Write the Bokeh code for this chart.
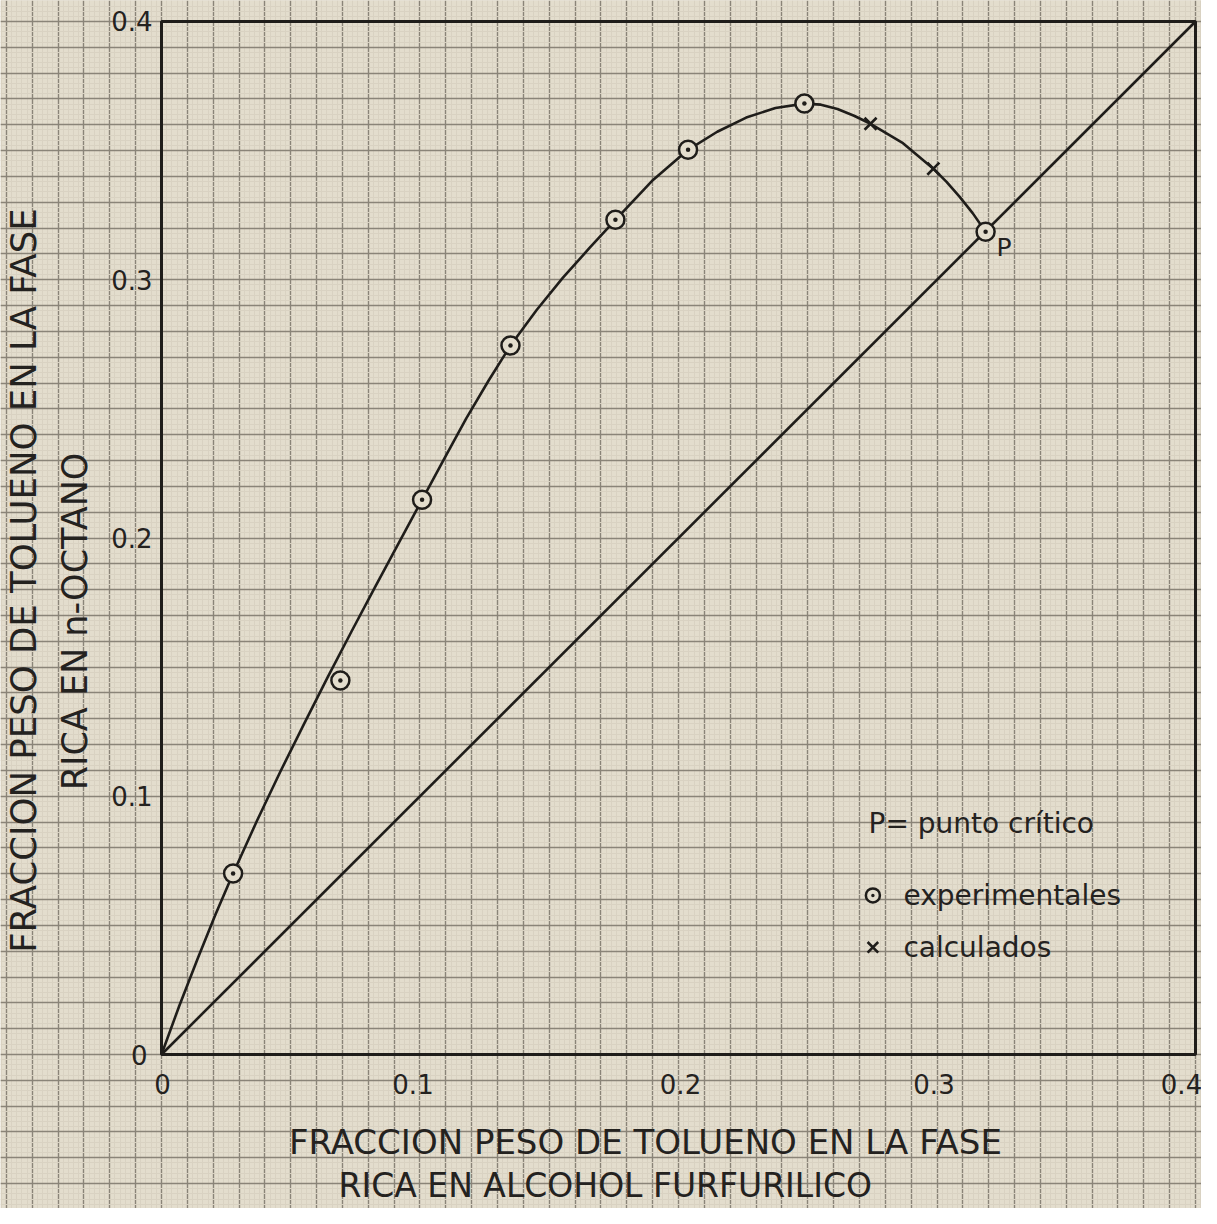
import numpy as np
from bokeh.plotting import figure
from bokeh.models import Range1d, FixedTicker, Grid, ColumnDataSource
from bokeh.core.properties import value
from bokeh.embed import file_html
from bokeh.resources import INLINE

# ---------------- data ----------------
exp_x = [0.0277, 0.0692, 0.1008, 0.1350, 0.1756, 0.2037, 0.2487, 0.3188]
exp_y = [0.0701, 0.1448, 0.2148, 0.2745, 0.3232, 0.3503, 0.3682, 0.3186]

calc_x = [0.2743, 0.2986]
calc_y = [0.3604, 0.3430]

# hand-drawn equilibrium curve
curve_x = [0.0, 0.0069, 0.0139, 0.0208, 0.0277, 0.0368, 0.0460, 0.0552, 0.0643,
           0.0734, 0.0825, 0.0917, 0.1008, 0.1094, 0.1179, 0.1265, 0.1350, 0.1452,
           0.1553, 0.1655, 0.1756, 0.1897, 0.2037, 0.2150, 0.2262, 0.2375, 0.2487,
           0.2551, 0.2615, 0.2679, 0.2743, 0.2865, 0.2986, 0.3037, 0.3087, 0.3138,
           0.3188]
curve_y = [0.0, 0.0189, 0.0369, 0.0540, 0.0701, 0.0902, 0.1096, 0.1281, 0.1461,
           0.1636, 0.1808, 0.1979, 0.2148, 0.2307, 0.2463, 0.2609, 0.2745, 0.2884,
           0.3008, 0.3122, 0.3232, 0.3382, 0.3503, 0.3573, 0.3628, 0.3665, 0.3682,
           0.3678, 0.3661, 0.3635, 0.3604, 0.3531, 0.3430, 0.3379, 0.3322, 0.3258,
           0.3186]

diag_x = [0.0, 0.4]
diag_y = [0.0, 0.4]

axis_min, axis_max = 0.0, 0.4
x_ticks = [0.0, 0.1, 0.2, 0.3, 0.4]
x_tick_labels = ["0", "0.1", "0.2", "0.3", "0.4"]
y_ticks = [0.0, 0.1, 0.2, 0.3, 0.4]
y_tick_labels = ["0", "0.1", "0.2", "0.3", "0.4"]

x_title_1 = "FRACCION PESO DE TOLUENO EN LA FASE"
x_title_2 = "RICA EN ALCOHOL  FURFURILICO"
y_title_1 = "FRACCION PESO DE TOLUENO EN LA FASE"
y_title_2 = "RICA EN n-OCTANO"

legend_lines = ["P= punto crítico", "experimentales", "calculados"]
critical_label = "P"

# ---------------- styling ----------------
PAPER = "#e3ddcd"
INK = "#1f1d1a"
TEXT_INK = "#24221f"
GRID_MAJOR = "#8a8478"
GRID_MINOR = "#d9d2c2"
FONT = value("DejaVu Sans")

p = figure(width=1201, height=1208,
           x_range=Range1d(-0.06228, 0.40232), y_range=Range1d(-0.05963, 0.40813),
           min_border=0, x_axis_location=None, y_axis_location=None,
           toolbar_location=None, output_backend="svg",
           background_fill_color=PAPER, border_fill_color=PAPER)
p.outline_line_color = None
p.xgrid.visible = False
p.ygrid.visible = False

major = list(np.round(np.arange(-7, 42) * 0.01, 4))
minor = list(np.round(np.arange(-35, 205) * 0.002, 4))
for dim in (0, 1):
    g = Grid(dimension=dim, ticker=FixedTicker(ticks=major, minor_ticks=minor),
             grid_line_color=GRID_MAJOR, grid_line_width=1.4,
             minor_grid_line_color=GRID_MINOR, minor_grid_line_width=1)
    p.add_layout(g)

# frame
p.quad(left=[axis_min], right=[axis_max], bottom=[axis_min], top=[axis_max],
       fill_color=None, line_color=INK, line_width=3)

# diagonal and equilibrium curve
p.line(diag_x, diag_y, line_color=INK, line_width=2.6)
p.line(curve_x, curve_y, line_color=INK, line_width=2.6, line_join="round")

# markers
p.scatter(exp_x, exp_y, marker="circle_dot", size=18, line_width=2.5,
          line_color=INK, fill_color=PAPER)
p.scatter(calc_x, calc_y, marker="x", size=17, line_width=2.6, line_color=INK)

# tick labels
xt = ColumnDataSource(dict(x=x_ticks, y=[axis_min] * len(x_ticks), t=x_tick_labels,
                           dx=[1, -7, 2, -3, -14]))
p.text(x="x", y="y", text="t", source=xt, x_offset="dx", y_offset=29,
       text_font=FONT, text_font_size="26px", text_color=TEXT_INK,
       text_align="center", text_baseline="middle")
yt = ColumnDataSource(dict(x=[axis_min] * len(y_ticks), y=y_ticks, t=y_tick_labels,
                           dx=[-14, -9, -9, -9, -9]))
p.text(x="x", y="y", text="t", source=yt, x_offset="dx",
       text_font=FONT, text_font_size="26px", text_color=TEXT_INK,
       text_align="right", text_baseline="middle")

# axis titles
p.text(x=[0.1872], y=[-0.0340], text=[x_title_1], text_font=FONT,
       text_font_size="34px", text_color=TEXT_INK, text_align="center", text_baseline="middle")
p.text(x=[0.1737], y=[-0.0507], text=[x_title_2], text_font=FONT,
       text_font_size="33px", text_color=TEXT_INK, text_align="center", text_baseline="middle")
p.text(x=[-0.0534], y=[0.1835], text=[y_title_1], text_font=FONT, angle=np.pi / 2,
       text_font_size="35.5px", text_color=TEXT_INK, text_align="center", text_baseline="middle")
p.text(x=[-0.0333], y=[0.1677], text=[y_title_2], text_font=FONT, angle=np.pi / 2,
       text_font_size="35px", text_color=TEXT_INK, text_align="center", text_baseline="middle")

# critical point label
p.text(x=[exp_x[-1]], y=[exp_y[-1]], text=[critical_label], text_font=FONT,
       text_font_size="25px", text_color=TEXT_INK, text_align="left", text_baseline="middle",
       x_offset=11, y_offset=16)

# legend
p.text(x=[0.2735], y=[0.0894], text=[legend_lines[0]], text_font=FONT,
       text_font_size="28px", text_color=TEXT_INK, text_align="left", text_baseline="middle")
p.scatter([0.2752], [0.0616], marker="circle_dot", size=14, line_width=2.5,
          line_color=INK, fill_color=PAPER)
p.text(x=[0.2870], y=[0.0616], text=[legend_lines[1]], text_font=FONT,
       text_font_size="28px", text_color=TEXT_INK, text_align="left", text_baseline="middle")
p.scatter([0.2752], [0.0415], marker="x", size=15, line_width=2.6, line_color=INK)
p.text(x=[0.2870], y=[0.0415], text=[legend_lines[2]], text_font=FONT,
       text_font_size="28px", text_color=TEXT_INK, text_align="left", text_baseline="middle")

open("out.html", "w").write(file_html(p, INLINE))
